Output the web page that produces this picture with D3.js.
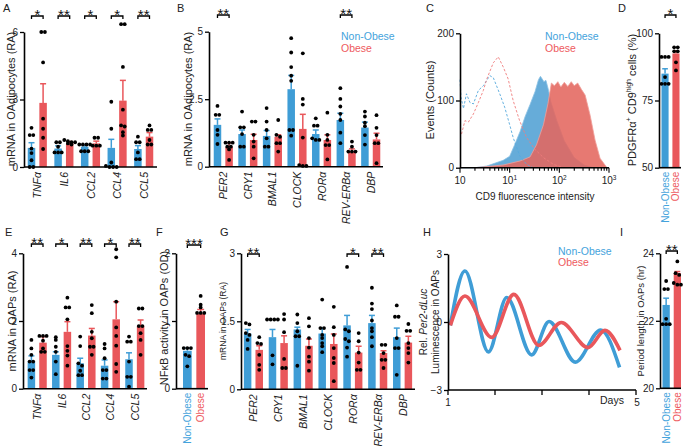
<!DOCTYPE html>
<html><head><meta charset="utf-8">
<script src="https://cdn.jsdelivr.net/npm/d3@7"></script>
<style>
body{margin:0;background:#fff}
svg{font-family:"Liberation Sans",Arial,sans-serif}
</style></head><body>
<svg id="c" width="685" height="446"></svg>
<script>
// ---------- DATA ----------
// Panel A
const aGenes = ["TNFα","IL6","CCL2","CCL4","CCL5"];
const aNonMean = [0.85,0.82,0.9,0.85,0.8];
const aNonSem  = [0.23,0.12,0.05,0.38,0.15];
const aObMean  = [2.85,1.05,1.05,2.95,1.35];
const aObSem   = [0.85,0.08,0.1,0.9,0.18];
const aNonPts = [[1.74,1.42,1.42,0.82,0.62,0.3,0,0],[1.1,1.1,0.9,0.65,0.65,0.65],[1.0,1.0,1.0,1.0,0.7,0.7,0.7],[2.9,1.7,0.2,0.05,0,0,0],[1.35,1.1,1.1,0.65,0.35,0.35]];
const aObPts  = [[6.0,6.0,4.65,2.15,1.7,1.3,0.8],[1.2,1.15,1.1,1.1,1.05,1.0],[1.3,1.3,0.95,0.95,0.95],[6.35,6.35,4.45,2.55,1.85,1.8,1.55,1.4],[1.85,1.65,1.65,1.2,1.0,1.0]];
const aSig = ["*","**","*","*","**"];
const aTicks = [0,3,6];

// Panel B
const bGenes = ["PER2","CRY1","BMAL1","CLOCK","RORα","REV-ERBα","DBP"];
const bNonMean = [1.55,1.21,1.14,2.87,1.21,1.73,1.45];
const bNonSem  = [0.22,0.15,0.2,0.51,0.15,0.25,0.2];
const bObMean  = [0.74,0.99,1.11,1.4,0.99,0.56,1.01];
const bObSem   = [0.15,0.21,0.07,0.54,0.19,0.1,0.23];
const bNonPts = [[2.25,1.92,1.92,1.36,1.18,0.84],[2.04,1.46,1.46,1.21,0.74,0.74],[2.17,1.67,1.36,1.05,0.74,0.74],[4.76,4.23,3.69,3.37,3.18,1.36,1.36,1.15],[1.79,1.52,1.52,1.05,0.99,0.99],[2.91,2.51,2.23,1.96,1.73,1.26,0.87],[2.04,1.86,1.63,1.5,1.17,0.82]];
const bObPts  = [[0.89,0.89,0.89,0.74,0.74,0.64,0.25],[1.67,1.67,1.18,0.93,0.74,0.31],[1.73,1.18,1.11,0.87,0.87,0.56],[4.2,2.51,2.3,1.08,0.06,0.03,0.03],[2.0,1.18,0.99,0.8,0.8,0.27],[0.93,0.74,0.56,0.56,0.56],[1.91,1.44,1.17,0.87,0.87,0.13]];
const bSig = ["**","","","","","**",""];
const bTicks = [0,2.5,5];

// Panel C (flow histogram; x as log10 fluorescence)
const cNonLog   = [0,0.3,0.54,0.87,1.0,1.1,1.21,1.31,1.41,1.51,1.58,1.62,1.69,1.73,1.78,1.83,1.95,2.1,2.3,2.5,2.7];
const cNonCount = [0,0,2.5,11,17,34,54,76,94,113,131,136,128,130,116,98,70,40,15,4,0];
const cObLog    = [0.3,0.87,1.21,1.41,1.54,1.68,1.77,1.84,1.9,1.97,2.03,2.1,2.17,2.24,2.3,2.37,2.45,2.52,2.62,2.72,2.82,2.96];
const cObCount  = [0,4,10,16,34,64,95,126,122,128,120,127,121,128,122,126,116,108,78,41,14,0];
const cNonIsoLog   = [0,0.02,0.07,0.13,0.2,0.27,0.37,0.47,0.6,0.67,0.8,0.9,1.0,1.07,1.2,1.34,1.47];
const cNonIsoCount = [131,105,88,110,97,95,115,122,137,134,110,90,64,45,18,5,0];
const cObIsoLog    = [0.03,0.1,0.17,0.27,0.37,0.47,0.54,0.67,0.77,0.87,0.97,1.07,1.2,1.34,1.5,1.68,1.88,2.08];
const cObIsoCount  = [50,70,68,80,97,115,132,156,165,150,132,100,70,45,28,15,5,0];
const cYTicks = [0,100,200];
const cXTicks = [1,10,100,1000];
const cXTickLabels = [["10",""],["10","1"],["10","2"],["10","3"]];

// Panel D
const dGroups = ["Non-Obese","Obese"];
const dMean = [85,92.5];
const dSem  = [1.8,1.0];
const dPts  = [[91.2,91.2,91.2,83.7,81.2,81.2,81.2],[94.8,94.8,93.3,93.3,89.2,86.2]];
const dSig = "*";
const dTicks = [50,75,100];

// Panel E
const eGenes = ["TNFα","IL6","CCL2","CCL4","CCL5"];
const eNonMean = [0.8,1.0,0.75,0.68,0.87];
const eNonSem  = [0.17,0.09,0.15,0.17,0.19];
const eObMean  = [1.36,1.68,1.57,2.05,1.85];
const eObSem   = [0.18,0.3,0.21,0.52,0.18];
const eNonPts = [[1.44,1.19,1.0,0.8,0.8,0.55,0.55,0.33],[1.52,1.44,1.24,1.09,0.8,0.43],[1.54,1.26,0.75,0.68,0.53,0.4,0.4],[1.32,1.19,0.9,0.55,0.55,0.3,0.3],[1.54,1.39,1.39,0.8,0.35,0.35,0.06]];
const eObPts  = [[1.56,1.56,1.56,1.42,1.19,1.09,1.09],[2.69,2.4,2.4,2.05,1.26,1.12,0.98,0.68],[2.47,2.23,1.68,1.49,1.24,1.24,1.0],[4.12,3.88,2.57,1.81,1.56,1.27,0.73,0.5],[2.37,2.37,1.85,1.85,1.64,1.44,1.0]];
const eSig = ["**","*","**","*","**"];
const eTicks = [0,2,4];

// Panel F
const fGroups = ["Non-Obese","Obese"];
const fMean = [0.56,1.11];
const fSem  = [0.04,0.06];
const fPts  = [[0.6,0.6,0.6,0.5,0.48,0.33],[1.37,1.24,1.2,1.12,1.12,1.12]];
const fSig = "***";
const fTicks = [0,1,2];

// Panel G
const gGenes = ["PER2","CRY1","BMAL1","CLOCK","RORα","REV-ERBα","DBP"];
const gNonMean = [1.23,1.15,1.32,1.23,1.41,1.46,1.15];
const gNonSem  = [0.09,0.17,0.05,0.12,0.22,0.17,0.2];
const gObMean  = [0.87,1.02,0.96,1.0,0.81,0.8,1.03];
const gObSem   = [0.09,0.16,0.15,0.22,0.14,0.05,0.14];
const gNonPts = [[1.46,1.43,1.24,1.2,1.09,0.89],[1.54,1.54,1.54,1.54,0.75,0.55],[1.65,1.46,1.28,1.17,1.17,0.52],[1.98,1.35,1.35,1.2,1.13,1.02,0.95,0.82],[2.7,1.32,1.28,1.11,1.06,0.92,0.72],[2.24,1.89,1.77,1.52,1.35,1.28,1.15,0.95],[1.85,1.6,1.6,1.13,0.91,0.91,0.32]];
const gObPts  = [[1.15,1.02,1.0,0.76,0.54,0.43],[1.66,1.54,1.26,0.67,0.47,0.47],[1.57,1.39,1.13,0.92,0.72,0.61,0.41],[1.82,1.37,1.2,0.91,0.69,0.58,0.18],[1.24,1.06,0.81,0.59,0.43,0.43],[0.98,0.98,0.8,0.65,0.65,0.47],[1.44,1.29,1.29,1.02,0.91,0.8,0.59]];
const gSig = ["**","","","","*","**",""];
const gTicks = [0,1.5,3];

// Panel H (Per2-dLuc rhythm: extrema)
const hNonDay = [1.05,1.36,1.86,2.25,2.78,3.15,3.71,4.25,4.65];
const hNonVal = [-0.15,2.25,-1.32,1.08,-1.45,0.02,-1.77,-0.35,-2.0];
const hObDay  = [1.05,1.36,1.93,2.4,2.93,3.41,3.98,4.34,4.66];
const hObVal  = [-0.15,1.15,-0.68,1.22,-1.03,-0.02,-1.13,-0.37,-1.25];
const hYTicks = [-3,0,3];
const hXTicks = [1,2,3,4,5];

// Panel I
const iGroups = ["Non-Obese","Obese"];
const iMean = [22.47,23.41];
const iSem  = [0.2,0.05];
const iPts  = [[23.18,22.94,22.94,22.06,21.9,21.9,21.9],[23.76,23.41,23.36,23.12,23.07,23.07]];
const iSig = "**";
const iTicks = [20,22,24];

// ---------- DRAWING ----------
const BLUE="#3f9dd6", RED="#e9575b", TBLUE="#44a3dc", TRED="#ee5a5e";
const svg = d3.select("#c");

function letter(x,y,t){ svg.append("text").attr("x",x).attr("y",y).text(t).style("font-size","11px").attr("fill","#222"); }
function yTitle(x,y,size){ return svg.append("text").attr("transform",`translate(${x},${y}) rotate(-90)`)
  .attr("text-anchor","middle").attr("dominant-baseline","central").style("font-size",size+"px").attr("fill","#222"); }

function jitter(pts, y){
  const s = pts.map(v=>({v,py:y(v)})).sort((a,b)=>a.py-b.py);
  const groups=[]; let cur=[];
  s.forEach(p=>{ if(cur.length && p.py-cur[0].py>2.6){groups.push(cur);cur=[];} cur.push(p); });
  if(cur.length) groups.push(cur);
  const out=[];
  groups.forEach(gr=>gr.forEach((p,i)=>out.push({py:p.py,dx:(i-(gr.length-1)/2)*3.6})));
  return out;
}
function drawBar(g,cx,bw,y,mean,sem,pts,color){
  const y0=y.range()[0];
  g.append("rect").attr("x",cx-bw/2).attr("width",bw).attr("y",y(mean)).attr("height",y0-y(mean)).attr("fill",color);
  g.append("line").attr("x1",cx).attr("x2",cx).attr("y1",y(mean)).attr("y2",y(mean+sem)).attr("stroke",color).attr("stroke-width",1.5);
  g.append("line").attr("x1",cx-bw*0.4).attr("x2",cx+bw*0.4).attr("y1",y(mean+sem)).attr("y2",y(mean+sem)).attr("stroke",color).attr("stroke-width",1.5);
  jitter(pts,y).forEach(p=>g.append("circle").attr("cx",cx+p.dx).attr("cy",p.py).attr("r",1.9).attr("fill","#000"));
}
function sigMark(g,x1,x2,by,t){
  g.append("path").attr("d",`M${x1},${by+3}V${by}H${x2}V${by+3}`).attr("fill","none").attr("stroke","#000").attr("stroke-width",1.3);
  g.append("text").attr("x",(x1+x2)/2).attr("y",by+3.5).attr("text-anchor","middle").style("font-size","15px").attr("fill","#111").text(t);
}
function yAxis(g,x,y,ticks,fmt,fs){
  const ax=g.append("g").attr("transform",`translate(${x},0)`)
    .call(d3.axisLeft(y).tickValues(ticks).tickSize(4).tickSizeOuter(0).tickPadding(2).tickFormat(fmt||d3.format("")));
  ax.select(".domain").attr("stroke","#000").attr("stroke-width",1.6);
  ax.selectAll(".tick line").attr("stroke","#000").attr("stroke-width",1.3);
  ax.selectAll(".tick text").style("font-size",(fs||10)+"px").attr("fill","#222").style("font-family","inherit");
  return ax;
}
function grouped(c){
  const g=svg.append("g");
  const y=d3.scaleLinear().domain([c.ticks[0],c.ticks[c.ticks.length-1]]).range([c.yBot,c.yTop]);
  const x=d3.scaleBand().domain(c.cats).range([c.x0,c.x1]);
  const off=5.8,bw=7.5;
  c.cats.forEach((cat,i)=>{
    const cx=x(cat)+x.bandwidth()/2;
    drawBar(g,cx-off,bw,y,c.nonMean[i],c.nonSem[i],c.nonPts[i],BLUE);
    drawBar(g,cx+off,bw,y,c.obMean[i],c.obSem[i],c.obPts[i],RED);
    if(c.sig[i]) sigMark(g,cx-off,cx+off,c.sigY,c.sig[i]);
    g.append("text").attr("transform",`translate(${cx},${c.yBot+5}) rotate(-90)`).attr("text-anchor","end")
      .attr("dominant-baseline","central").style("font-size","10.5px").style("font-style","italic").attr("fill","#222").text(cat);
  });
  g.append("line").attr("x1",c.axisX).attr("x2",c.endX).attr("y1",c.yBot).attr("y2",c.yBot).attr("stroke","#000").attr("stroke-width",1.6);
  yAxis(g,c.axisX,y,c.ticks,c.fmt,c.tfs);
}
function pair(c){
  const g=svg.append("g");
  const y=d3.scaleLinear().domain([c.ticks[0],c.ticks[c.ticks.length-1]]).range([c.yBot,c.yTop]);
  const x=d3.scaleBand().domain(c.cats).range([c.b0,c.b1]).paddingInner(0.35).paddingOuter(0);
  const cols=[BLUE,RED], tcols=[TBLUE,TRED];
  c.cats.forEach((cat,i)=>{
    const cx=x(cat)+x.bandwidth()/2;
    drawBar(g,cx,x.bandwidth(),y,c.mean[i],c.sem[i],c.pts[i],cols[i]);
    g.append("text").attr("transform",`translate(${cx},${c.yBot+4}) rotate(-90)`).attr("text-anchor","end")
      .attr("dominant-baseline","central").style("font-size","10px").attr("fill",tcols[i]).text(cat);
  });
  const c0=x(c.cats[0])+x.bandwidth()/2, c1=x(c.cats[1])+x.bandwidth()/2;
  sigMark(g,c0,c1,c.sigY,c.sig);
  g.append("line").attr("x1",c.axisX).attr("x2",c.endX).attr("y1",c.yBot).attr("y2",c.yBot).attr("stroke","#000").attr("stroke-width",1.6);
  yAxis(g,c.axisX,y,c.ticks,c.fmt);
}
function legend(x,y1,y2){
  svg.append("text").attr("x",x).attr("y",y1).text("Non-Obese").attr("fill",TBLUE).style("font-size","10.5px");
  svg.append("text").attr("x",x).attr("y",y2).text("Obese").attr("fill",TRED).style("font-size","10.5px");
}

// Panel A
letter(3,12,"A");
grouped({cats:aGenes,nonMean:aNonMean,nonSem:aNonSem,obMean:aObMean,obSem:aObSem,nonPts:aNonPts,obPts:aObPts,sig:aSig,
  ticks:aTicks,yTop:32,yBot:167,axisX:24,endX:157,x0:24,x1:157,sigY:16});
yTitle(11,99,11).text("mRNA in OAdipocytes (RA)");

// Panel B
letter(177,12,"B");
grouped({cats:bGenes,nonMean:bNonMean,nonSem:bNonSem,obMean:bObMean,obSem:bObSem,nonPts:bNonPts,obPts:bObPts,sig:bSig,
  ticks:bTicks,yTop:31.7,yBot:166.7,axisX:209,endX:383,x0:211,x1:383,sigY:15,fmt:d3.format("")});
yTitle(188,99,11).text("mRNA in OAdipocytes (RA)");
legend(341,40,51.5);

// Panel C
letter(426,12,"C");
{
  const g=svg.append("g");
  const x=d3.scaleLog().domain([1,1000]).range([460,609]);
  const y=d3.scaleLinear().domain([0,200]).range([167.7,33.3]);
  const area=d3.area().x(d=>x(Math.pow(10,d[0]))).y0(y(0)).y1(d=>y(d[1])).curve(d3.curveLinear);
  const line=d3.line().x(d=>x(Math.pow(10,d[0]))).y(d=>y(d[1]));
  g.append("path").datum(d3.zip(cNonLog,cNonCount)).attr("d",area).attr("fill","#66acd9").attr("stroke","#8cc2e4").attr("stroke-width",0.8);
  g.append("path").datum(d3.zip(cObLog,cObCount)).attr("d",area).attr("fill","#e4675f").attr("fill-opacity",0.88).attr("stroke","#f0a09a").attr("stroke-width",0.8);
  g.append("path").datum(d3.zip(cNonIsoLog,cNonIsoCount)).attr("d",line).attr("fill","none").attr("stroke","#57a9dc").attr("stroke-width",0.9).attr("stroke-dasharray","2.5,1.8");
  g.append("path").datum(d3.zip(cObIsoLog,cObIsoCount)).attr("d",line).attr("fill","none").attr("stroke","#ef7d7d").attr("stroke-width",0.9).attr("stroke-dasharray","2.5,1.8");
  g.append("line").attr("x1",460).attr("x2",609).attr("y1",y(0)).attr("y2",y(0)).attr("stroke","#000").attr("stroke-width",1.6);
  x.ticks().forEach(t=>{
    const major=cXTicks.includes(t);
    g.append("line").attr("x1",x(t)).attr("x2",x(t)).attr("y1",y(0)).attr("y2",y(0)+(major?5:3)).attr("stroke","#000").attr("stroke-width",1.1);
  });
  cXTicks.forEach((t,i)=>{
    const tx=g.append("text").attr("x",x(t)).attr("y",y(0)+16).attr("text-anchor","middle").style("font-size","10px").attr("fill","#222");
    tx.append("tspan").text(cXTickLabels[i][0]);
    if(cXTickLabels[i][1]) tx.append("tspan").attr("dy",-4).style("font-size","6.5px").text(cXTickLabels[i][1]);
  });
  yAxis(g,460,y,cYTicks);
  svg.append("text").attr("x",535).attr("y",200).attr("text-anchor","middle").style("font-size","10px").attr("fill","#222").text("CD9 fluorescence intensity");
  yTitle(430,100,11).text("Events (Counts)");
  legend(545,40,51.5);
}

// Panel D
letter(618,12,"D");
pair({cats:dGroups,mean:dMean,sem:dSem,pts:dPts,sig:dSig,ticks:dTicks,yTop:33.3,yBot:167.7,axisX:659,endX:681,b0:661.5,b1:679.5,sigY:15});
{
  const t=yTitle(632,100,11);
  t.append("tspan").text("PDGFRα");
  t.append("tspan").attr("baseline-shift","super").style("font-size","7px").text("+");
  t.append("tspan").text(" CD9");
  t.append("tspan").attr("baseline-shift","super").style("font-size","7px").text("high");
  t.append("tspan").text(" cells (%)");
}

// Panel E
letter(5,236,"E");
grouped({cats:eGenes,nonMean:eNonMean,nonSem:eNonSem,obMean:eObMean,obSem:eObSem,nonPts:eNonPts,obPts:eObPts,sig:eSig,
  ticks:eTicks,yTop:253.3,yBot:388.7,axisX:23,endX:147,x0:25,x1:147,sigY:244});
yTitle(12,321,11).text("mRNA in OAPs (RA)");

// Panel F
letter(156,236,"F");
pair({cats:fGroups,mean:fMean,sem:fSem,pts:fPts,sig:fSig,ticks:fTicks,yTop:253.3,yBot:388.7,axisX:176,endX:208,b0:183,b1:205,sigY:245});
yTitle(164,318,11).text("NFκB activity in OAPs (OD)");

// Panel G
letter(220,236,"G");
grouped({cats:gGenes,nonMean:gNonMean,nonSem:gNonSem,obMean:gObMean,obSem:gObSem,nonPts:gNonPts,obPts:gObPts,sig:gSig,
  ticks:gTicks,yTop:253.3,yBot:389.3,axisX:241,endX:415,x0:241,x1:415,sigY:254});
yTitle(223,321,8.5).text("mRNA in OAPs (RA)");

// Panel H
letter(423,236,"H");
{
  const g=svg.append("g");
  const x=d3.scaleLinear().domain([1,5]).range([448,636]);
  const y=d3.scaleLinear().domain([-3,3]).range([390,254]);
  const line=d3.line().x(d=>x(d[0])).y(d=>y(d[1])).curve(d3.curveMonotoneX);
  g.append("path").datum(d3.zip(hNonDay,hNonVal)).attr("d",line).attr("fill","none").attr("stroke",BLUE).attr("stroke-width",3.6);
  g.append("path").datum(d3.zip(hObDay,hObVal)).attr("d",line).attr("fill","none").attr("stroke",RED).attr("stroke-width",3.6);
  g.append("line").attr("x1",448).attr("x2",636).attr("y1",390).attr("y2",390).attr("stroke","#000").attr("stroke-width",1.6);
  hXTicks.forEach(t=>g.append("line").attr("x1",x(t)).attr("x2",x(t)).attr("y1",390).attr("y2",395).attr("stroke","#000").attr("stroke-width",1.3));
  g.append("text").attr("x",x(1)).attr("y",406).attr("text-anchor","middle").style("font-size","10px").attr("fill","#222").text(hXTicks[0]);
  g.append("text").attr("x",x(5)+1).attr("y",406).attr("text-anchor","middle").style("font-size","10px").attr("fill","#222").text(hXTicks[4]);
  g.append("text").attr("x",612).attr("y",404).attr("text-anchor","middle").style("font-size","10.5px").attr("fill","#222").text("Days");
  yAxis(g,448,y,hYTicks);
  const t1=yTitle(423,322,10); t1.append("tspan").text("Rel. "); t1.append("tspan").style("font-style","italic").text("Per2-dLuc");
  yTitle(435,322,10).text("Luminescence in OAPs");
  legend(558,255,266);
}

// Panel I
letter(620,236,"I");
pair({cats:iGroups,mean:iMean,sem:iSem,pts:iPts,sig:iSig,ticks:iTicks,yTop:253.3,yBot:388.3,axisX:660,endX:681,b0:662.5,b1:681,sigY:251});
yTitle(640,321,9.5).text("Period length in OAPs (hr)");
</script></body></html>
